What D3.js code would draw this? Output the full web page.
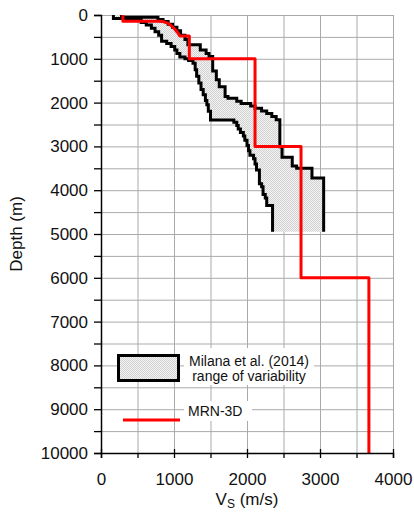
<!DOCTYPE html>
<html>
<head>
<meta charset="utf-8">
<script src="https://cdn.jsdelivr.net/npm/d3@7"></script>
<style>
  html, body { margin: 0; padding: 0; background: #fff; }
  svg { display: block; font-family: "Liberation Sans", Arial, sans-serif; }
</style>
</head>
<body>
<svg id="chart" width="414" height="512"></svg>
<script>
// Shear-wave velocity profiles: Vs (m/s) versus depth (m)

// Milana et al. (2014) lower bound of the range of variability: [Vs, depth]
const milanaMin = [
  [170,0],[170,80],[550,80],[550,170],[620,170],[620,230],[690,230],[690,300],
  [740,300],[740,380],[790,380],[790,460],[830,460],[830,600],[900,600],[900,650],
  [960,650],[960,720],[1010,720],[1010,800],[1040,800],[1040,880],[1080,880],[1080,960],
  [1150,960],[1150,1000],[1200,1000],[1200,1040],[1260,1040],[1260,1100],[1290,1100],
  [1290,1250],[1310,1250],[1310,1400],[1340,1400],[1340,1550],[1370,1550],[1370,1700],
  [1400,1700],[1400,1820],[1430,1820],[1430,1950],[1450,1950],[1450,2050],[1470,2050],
  [1470,2200],[1500,2200],[1500,2400],[1820,2400],[1820,2450],[1860,2450],[1860,2520],
  [1880,2520],[1880,2600],[1910,2600],[1910,2680],[1950,2680],[1950,2760],[1970,2760],
  [1970,2860],[2000,2860],[2000,2980],[2020,2980],[2020,3100],[2040,3100],[2040,3200],
  [2090,3200],[2090,3280],[2110,3280],[2110,3400],[2130,3400],[2130,3540],[2170,3540],
  [2170,3850],[2200,3850],[2200,3920],[2220,3920],[2220,4100],[2250,4100],[2250,4180],
  [2270,4180],[2270,4350],[2350,4350],[2350,4950]
];

// Milana et al. (2014) upper bound of the range of variability: [Vs, depth]
const milanaMax = [
  [280,0],[280,50],[780,50],[780,100],[850,100],[850,150],[920,150],[920,210],
  [980,210],[980,280],[1040,280],[1040,360],[1090,360],[1090,460],[1150,460],[1150,560],
  [1190,560],[1190,680],[1360,680],[1360,800],[1440,800],[1440,880],[1480,880],[1480,950],
  [1530,950],[1530,1280],[1580,1280],[1580,1480],[1620,1480],[1620,1640],[1700,1640],
  [1700,1860],[1740,1860],[1740,1900],[1860,1900],[1860,1970],[1920,1970],[1920,2020],
  [2050,2020],[2050,2080],[2110,2080],[2110,2130],[2200,2130],[2200,2190],[2270,2190],
  [2270,2250],[2340,2250],[2340,2320],[2400,2320],[2400,2390],[2450,2390],[2450,3010],
  [2480,3010],[2480,3250],[2620,3250],[2620,3450],[2680,3450],[2680,3500],[2890,3500],
  [2890,3720],[3050,3720],[3050,4950]
];

// MRN-3D model profile: [Vs, depth]
const mrn3d = [
  [300,0],[300,140],[780,140],[850,150],[910,185],[960,240],[1010,320],[1050,400],
  [1080,480],[1210,480],[1210,1000],[2110,1000],[2110,3000],[2740,3000],[2740,6000],
  [3670,6000],[3670,10000]
];

const xTicks = [0, 1000, 2000, 3000, 4000];
const yTicks = [0, 1000, 2000, 3000, 4000, 5000, 6000, 7000, 8000, 9000, 10000];
const legendLabels = ["Milana et al. (2014)", "range of variability", "MRN-3D"];
const axisTitles = { x: "V", xSub: "S", xUnit: " (m/s)", y: "Depth (m)" };

const svg = d3.select("#chart");
const x = d3.scaleLinear().domain([0, 4000]).range([101, 393]);
const y = d3.scaleLinear().domain([0, 10000]).range([15, 453]);

// stipple fill for the variability band
const defs = svg.append("defs");
const pat = defs.append("pattern").attr("id", "stipple")
  .attr("width", 2).attr("height", 2).attr("patternUnits", "userSpaceOnUse");
pat.append("rect").attr("width", 2).attr("height", 2).attr("fill", "#f2f2f2");
pat.append("rect").attr("width", 1).attr("height", 1).attr("fill", "#d2d2d2");
pat.append("rect").attr("x", 1).attr("y", 1).attr("width", 1).attr("height", 1).attr("fill", "#d2d2d2");

// grid every 500
const gridStep = d3.range(0, 4001, 500);
const gridDepth = d3.range(0, 10001, 500);
const grid = svg.append("g").attr("stroke", "#aaaaaa").attr("stroke-width", 1);
grid.selectAll("line.v").data(gridStep.slice(1)).join("line")
  .attr("x1", d => x(d) + 0.5).attr("x2", d => x(d) + 0.5)
  .attr("y1", y(0)).attr("y2", y(10000));
grid.selectAll("line.h").data(gridDepth.slice(0, -1)).join("line")
  .attr("x1", x(0)).attr("x2", x(4000) + 0.5)
  .attr("y1", d => y(d) + 0.5).attr("y2", d => y(d) + 0.5);

// band between the two bounds
const band = milanaMin.concat(milanaMax.slice().reverse());
svg.append("path")
  .attr("d", d3.line().x(d => x(d[0])).y(d => y(d[1]))(band) + "Z")
  .attr("fill", "url(#stipple)").attr("stroke", "none");

const line = d3.line().x(d => x(d[0])).y(d => y(d[1]));
[milanaMin, milanaMax].forEach(arr => {
  svg.append("path").attr("d", line(arr))
    .attr("fill", "none").attr("stroke", "#000").attr("stroke-width", 3)
    .attr("stroke-linejoin", "miter");
});

svg.append("path").attr("d", line(mrn3d))
  .attr("fill", "none").attr("stroke", "#ff0000").attr("stroke-width", 3)
  .attr("stroke-linejoin", "round");

// axes
const yAxis = d3.axisLeft(y).tickValues(gridDepth).tickSize(7)
  .tickFormat(d => yTicks.includes(d) ? d : "");
const gy = svg.append("g").attr("transform", `translate(${x(0)},0)`).call(yAxis);
const xAxis = d3.axisBottom(x).tickValues(gridStep).tickSize(5)
  .tickFormat(d => xTicks.includes(d) ? d : "");
const gx = svg.append("g").attr("transform", `translate(0,${y(10000)})`).call(xAxis);
[gx, gy].forEach(g => {
  g.select(".domain").attr("stroke", "#000").attr("stroke-width", 1.5);
  g.selectAll(".tick line").attr("stroke", "#000").attr("stroke-width", 1.3);
  g.selectAll(".tick text").attr("fill", "#111")
    .attr("font-family", "Liberation Sans, Arial, sans-serif").attr("font-size", 17);
});
gy.selectAll(".tick text").attr("x", -13);
gx.selectAll(".tick text").attr("y", 20);
gx.selectAll(".tick").filter(d => xTicks.includes(d)).select("line").attr("y1", -4);

// axis titles
svg.append("text").attr("transform", `translate(22,${y(5000)}) rotate(-90)`)
  .attr("text-anchor", "middle").attr("font-size", 17).attr("fill", "#111")
  .text(axisTitles.y);
const xt = svg.append("text").attr("x", x(2000)).attr("y", 505)
  .attr("text-anchor", "middle").attr("font-size", 17).attr("fill", "#111");
xt.append("tspan").text(axisTitles.x);
xt.append("tspan").attr("font-size", 12).attr("dy", 3).text(axisTitles.xSub);
xt.append("tspan").attr("dy", -3).text(axisTitles.xUnit);

// legend
const lg = svg.append("g");
lg.append("rect").attr("x", 184).attr("y", 348).attr("width", 130).attr("height", 37).attr("fill", "#fff");
lg.append("rect").attr("x", 184).attr("y", 401).attr("width", 68).attr("height", 20).attr("fill", "#fff");
lg.append("rect").attr("x", 118.5).attr("y", 355.5).attr("width", 60).attr("height", 25)
  .attr("fill", "url(#stipple)").attr("stroke", "#000").attr("stroke-width", 3);
lg.append("text").attr("x", 249).attr("y", 366).attr("text-anchor", "middle")
  .attr("font-size", 14).attr("fill", "#111").text(legendLabels[0]);
lg.append("text").attr("x", 249).attr("y", 381).attr("text-anchor", "middle")
  .attr("font-size", 14).attr("fill", "#111").text(legendLabels[1]);
lg.append("line").attr("x1", 123).attr("x2", 180).attr("y1", 420).attr("y2", 420)
  .attr("stroke", "#ff0000").attr("stroke-width", 3);
lg.append("text").attr("x", 188).attr("y", 416).attr("font-size", 14)
  .attr("fill", "#111").text(legendLabels[2]);
</script>
</body>
</html>
